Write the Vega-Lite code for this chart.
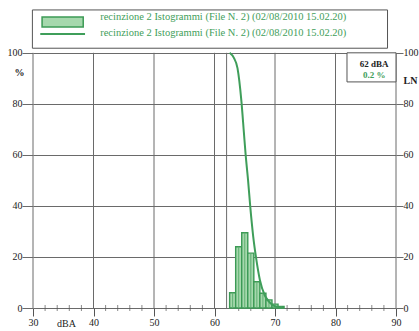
{
  "$schema": "https://vega.github.io/schema/vega-lite/v6.json",
  "width": 363,
  "height": 308,
  "autosize": "none",
  "padding": {"left": 33, "top": 0, "right": 23, "bottom": 23},
  "background": "white",
  "config": {"view": {"stroke": null}, "font": "Liberation Serif"},
  "datasets": {
    "hist": [
      {"lo": 62.5, "hi": 63.5, "c": 63, "pct": 6},
      {"lo": 63.5, "hi": 64.5, "c": 64, "pct": 24},
      {"lo": 64.5, "hi": 65.5, "c": 65, "pct": 29.5},
      {"lo": 65.5, "hi": 66.5, "c": 66, "pct": 21.5},
      {"lo": 66.5, "hi": 67.5, "c": 67, "pct": 10.3},
      {"lo": 67.5, "hi": 68.5, "c": 68, "pct": 5.8},
      {"lo": 68.5, "hi": 69.5, "c": 69, "pct": 3.2},
      {"lo": 69.5, "hi": 70.5, "c": 70, "pct": 1.5},
      {"lo": 70.5, "hi": 71.5, "c": 71, "pct": 0.6}
    ],
    "ln": [
      {"x": 62.5, "ln": 100},
      {"x": 63.2, "ln": 98},
      {"x": 63.8, "ln": 94},
      {"x": 64.1, "ln": 89},
      {"x": 64.45, "ln": 81},
      {"x": 64.85, "ln": 69},
      {"x": 65.15, "ln": 60},
      {"x": 65.55, "ln": 50},
      {"x": 65.9, "ln": 40},
      {"x": 66.4, "ln": 28},
      {"x": 66.85, "ln": 20},
      {"x": 67.5, "ln": 11},
      {"x": 68.3, "ln": 5},
      {"x": 69.0, "ln": 2.5},
      {"x": 69.7, "ln": 1},
      {"x": 70.5, "ln": 0.3},
      {"x": 71.3, "ln": 0}
    ]
  },
  "layer": [
    {
      "data": {"values": [{"x": 30}, {"x": 40}, {"x": 50}, {"x": 60}, {"x": 62}, {"x": 70}, {"x": 80}, {"x": 90}]},
      "mark": {"type": "rule", "color": "#6a6a6a", "strokeWidth": 1},
      "encoding": {
        "x": {
          "field": "x", "type": "quantitative",
          "scale": {"domain": [30, 90], "nice": false, "zero": false},
          "axis": {
            "values": [30, 40, 50, 60, 70, 80, 90], "orient": "bottom", "grid": false, "domain": false,
            "tickSize": 8, "tickColor": "#555", "labelPadding": 1, "labelFlush": false,
            "labelFontSize": 10, "labelColor": "#222", "labelFont": "Liberation Serif",
            "title": "dBA", "titleX": 33, "titleY": 15, "titleBaseline": "middle", "titleAlign": "center",
            "titleFontSize": 10, "titleFontWeight": "normal", "titleFont": "Liberation Serif", "titleColor": "#222"
          }
        },
        "y": {
          "datum": 0, "type": "quantitative",
          "scale": {"domain": [0, 120.7], "nice": false, "zero": false},
          "axis": {
            "values": [0, 20, 40, 60, 80, 100], "orient": "left", "grid": true, "gridColor": "#6a6a6a",
            "gridWidth": 1, "gridOpacity": 1, "domain": false, "tickSize": 11, "tickColor": "#6a6a6a",
            "labelPadding": 0, "labelFontSize": 10, "labelColor": "#222", "labelFont": "Liberation Serif",
            "title": "%", "titleAngle": 0, "titleX": -14, "titleY": 72, "titleBaseline": "middle",
            "titleAlign": "center", "titleFontSize": 10, "titleFontWeight": "bold", "titleFont": "Liberation Serif", "titleColor": "#222"
          }
        },
        "y2": {"datum": 100}
      }
    },
    {
      "data": {"values": [{"m": 32}, {"m": 34}, {"m": 36}, {"m": 38}, {"m": 42}, {"m": 44}, {"m": 46}, {"m": 48}, {"m": 52}, {"m": 54}, {"m": 56}, {"m": 58}, {"m": 64}, {"m": 66}, {"m": 68}, {"m": 72}, {"m": 74}, {"m": 76}, {"m": 78}, {"m": 82}, {"m": 84}, {"m": 86}, {"m": 88}]},
      "mark": {"type": "tick", "orient": "vertical", "size": 6, "thickness": 1, "color": "#555"},
      "encoding": {
        "x": {"field": "m", "type": "quantitative"},
        "y": {"datum": 0, "type": "quantitative", "axis": null}
      }
    },
    {
      "data": {"name": "hist"},
      "mark": {"type": "rect", "fill": "#a6d8ad", "stroke": "#3c9a55", "strokeWidth": 1.4},
      "encoding": {
        "x": {"field": "lo", "type": "quantitative"},
        "x2": {"field": "hi"},
        "y": {"field": "pct", "type": "quantitative", "axis": null},
        "y2": {"datum": 0}
      }
    },
    {
      "data": {"name": "hist"},
      "mark": {"type": "rule", "color": "#5fb072", "strokeWidth": 1},
      "encoding": {
        "x": {"field": "c", "type": "quantitative"},
        "y": {"field": "pct", "type": "quantitative", "axis": null},
        "y2": {"datum": 0}
      }
    },
    {
      "data": {"name": "ln"},
      "mark": {"type": "line", "interpolate": "monotone", "color": "#3f9e5a", "strokeWidth": 2},
      "encoding": {
        "x": {"field": "x", "type": "quantitative"},
        "y": {
          "field": "ln", "type": "quantitative",
          "axis": {
            "values": [0, 20, 40, 60, 80, 100], "orient": "right", "grid": false, "domain": false,
            "tickSize": 7, "tickColor": "#6a6a6a", "labelPadding": 0, "labelFontSize": 10,
            "labelColor": "#222", "labelFont": "Liberation Serif",
            "title": "LN", "titleAngle": 0, "titleX": 14, "titleY": 80, "titleBaseline": "middle",
            "titleAlign": "center", "titleFontSize": 10, "titleFontWeight": "bold", "titleFont": "Liberation Serif", "titleColor": "#222"
          }
        }
      }
    },
    {
      "data": {"values": [{"x1": 81.9, "x2": 90, "y1": 88.6, "y2": 100}]},
      "mark": {"type": "rect", "fill": "white", "stroke": "#555", "strokeWidth": 1},
      "encoding": {
        "x": {"field": "x1", "type": "quantitative"},
        "x2": {"field": "x2"},
        "y": {"field": "y1", "type": "quantitative", "axis": null},
        "y2": {"field": "y2"}
      }
    },
    {
      "data": {"values": [{"x": 86.4, "y": 95.6, "t": "62 dBA", "k": "a"}, {"x": 86.4, "y": 91.4, "t": "0.2 %", "k": "b"}]},
      "mark": {"type": "text", "font": "Liberation Serif", "fontSize": 9, "fontWeight": "bold", "align": "center", "baseline": "middle"},
      "encoding": {
        "x": {"field": "x", "type": "quantitative"},
        "y": {"field": "y", "type": "quantitative", "axis": null},
        "text": {"field": "t"},
        "color": {"field": "k", "type": "nominal", "scale": {"domain": ["a", "b"], "range": ["#222222", "#3f9e5a"]}, "legend": null}
      }
    },
    {
      "data": {"values": [{"x1": 29.9, "x2": 88.6, "y1": 101.8, "y2": 116.8}]},
      "mark": {"type": "rect", "fill": "white", "stroke": "#555", "strokeWidth": 1},
      "encoding": {
        "x": {"field": "x1", "type": "quantitative"},
        "x2": {"field": "x2"},
        "y": {"field": "y1", "type": "quantitative", "axis": null},
        "y2": {"field": "y2"}
      }
    },
    {
      "data": {"values": [{"x1": 31.5, "x2": 38.3, "y1": 110.1, "y2": 114.0}]},
      "mark": {"type": "rect", "fill": "#a6d8ad", "stroke": "#3c9a55", "strokeWidth": 1.5},
      "encoding": {
        "x": {"field": "x1", "type": "quantitative"},
        "x2": {"field": "x2"},
        "y": {"field": "y1", "type": "quantitative", "axis": null},
        "y2": {"field": "y2"}
      }
    },
    {
      "data": {"values": [{"x1": 31.2, "x2": 38.6, "y": 107.4}]},
      "mark": {"type": "rule", "color": "#3f9e5a", "strokeWidth": 2},
      "encoding": {
        "x": {"field": "x1", "type": "quantitative"},
        "x2": {"field": "x2"},
        "y": {"field": "y", "type": "quantitative", "axis": null}
      }
    },
    {
      "data": {"values": [{"x": 41.1, "y": 114.0, "t": "recinzione 2 Istogrammi (File N. 2) (02/08/2010 15.02.20)"}, {"x": 41.1, "y": 107.8, "t": "recinzione 2 Istogrammi (File N. 2) (02/08/2010 15.02.20)"}]},
      "mark": {"type": "text", "font": "Liberation Serif", "fontSize": 10.5, "align": "left", "baseline": "middle", "color": "#3f9e5a"},
      "encoding": {
        "x": {"field": "x", "type": "quantitative"},
        "y": {"field": "y", "type": "quantitative", "axis": null},
        "text": {"field": "t"}
      }
    }
  ],
  "resolve": {"axis": {"y": "independent"}}
}
